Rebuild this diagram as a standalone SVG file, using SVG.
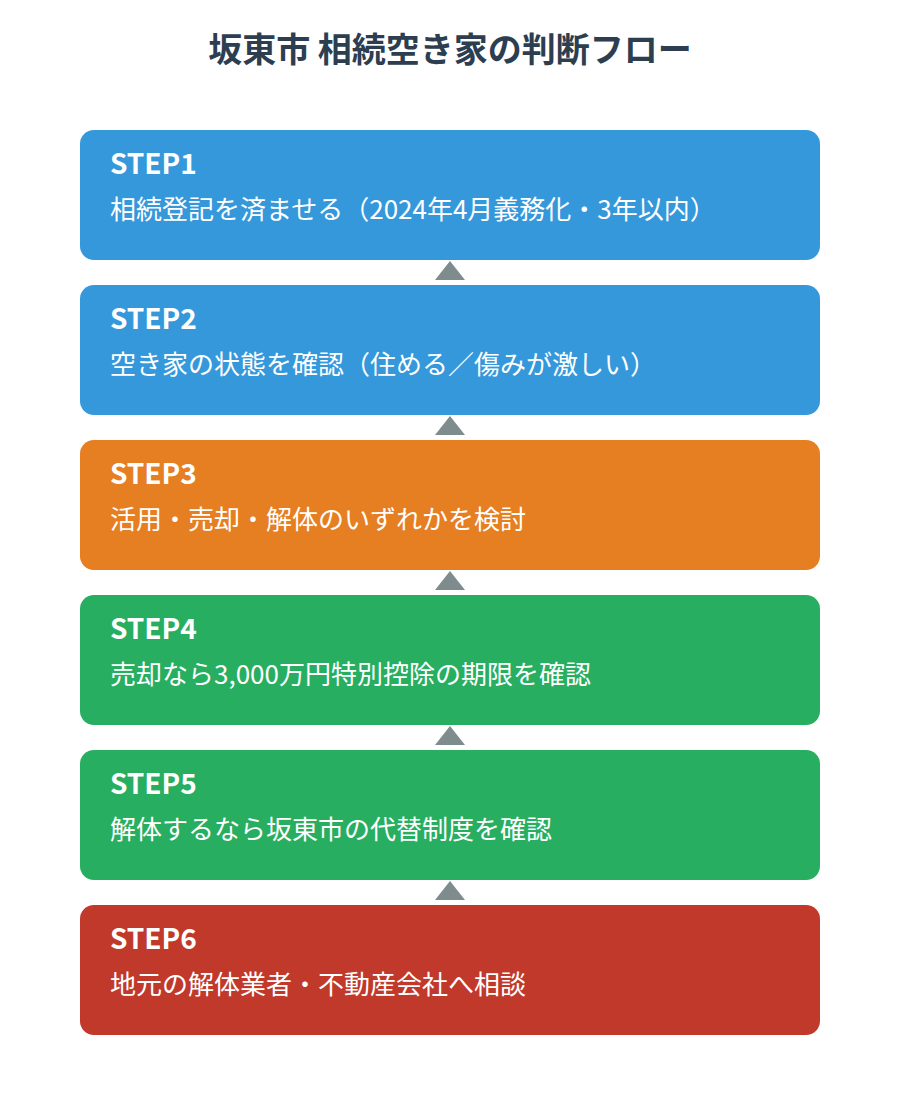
<svg xmlns="http://www.w3.org/2000/svg" width="900" height="1100" viewBox="0 0 900 1100">
<style>
.title{font-family:"Noto Sans CJK JP","Noto Sans",sans-serif;font-size:34px;font-weight:700;fill:#2c3e50}
.step{font-family:"Noto Sans CJK JP","Noto Sans",sans-serif;font-size:28px;font-weight:700;fill:#ffffff}
.body{font-family:"Noto Sans CJK JP","Noto Sans",sans-serif;font-size:26px;font-weight:400;fill:#ffffff}
.arrow{fill:#7f8c8d}
</style>
<rect x="0" y="0" width="900" height="1100" fill="#ffffff"/>
<text class="title" x="450" y="62" text-anchor="middle">坂東市 相続空き家の判断フロー</text>
<g id="connectors">
<polygon class="arrow" points="435,280 465,280 450,261"/>
<polygon class="arrow" points="435,435 465,435 450,416"/>
<polygon class="arrow" points="435,590 465,590 450,571"/>
<polygon class="arrow" points="435,745 465,745 450,726"/>
<polygon class="arrow" points="435,900 465,900 450,881"/>
</g>
<g id="step1">
<rect x="80" y="130" width="740" height="130" rx="14" fill="#3498db"/>
<text class="step" x="110" y="174">STEP1</text>
<text class="body" x="110" y="219">相続登記を済ませる（2024年4月義務化・3年以内）</text>
</g>
<g id="step2">
<rect x="80" y="285" width="740" height="130" rx="14" fill="#3498db"/>
<text class="step" x="110" y="329">STEP2</text>
<text class="body" x="110" y="374">空き家の状態を確認（住める／傷みが激しい）</text>
</g>
<g id="step3">
<rect x="80" y="440" width="740" height="130" rx="14" fill="#e67e22"/>
<text class="step" x="110" y="484">STEP3</text>
<text class="body" x="110" y="529">活用・売却・解体のいずれかを検討</text>
</g>
<g id="step4">
<rect x="80" y="595" width="740" height="130" rx="14" fill="#27ae60"/>
<text class="step" x="110" y="639">STEP4</text>
<text class="body" x="110" y="684">売却なら3,000万円特別控除の期限を確認</text>
</g>
<g id="step5">
<rect x="80" y="750" width="740" height="130" rx="14" fill="#27ae60"/>
<text class="step" x="110" y="794">STEP5</text>
<text class="body" x="110" y="839">解体するなら坂東市の代替制度を確認</text>
</g>
<g id="step6">
<rect x="80" y="905" width="740" height="130" rx="14" fill="#c0392b"/>
<text class="step" x="110" y="949">STEP6</text>
<text class="body" x="110" y="994">地元の解体業者・不動産会社へ相談</text>
</g>
</svg>
